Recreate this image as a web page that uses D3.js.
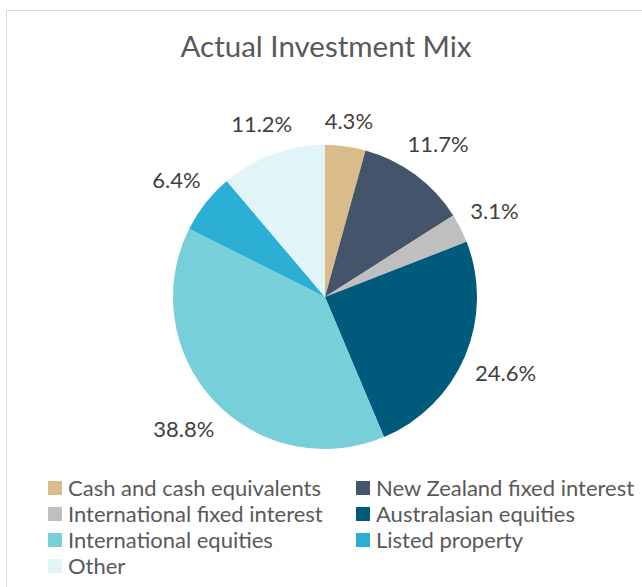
<!DOCTYPE html>
<html>
<head>
<meta charset="utf-8">
<script src="https://cdn.jsdelivr.net/npm/d3@7"></script>
<style>
    body { margin: 0; background: #fff; }
    text { font-family: Lato, "Open Sans", sans-serif; }
</style>
</head>
<body>
<div id="chart"></div>
<script>
// values
const categories = [
    "Cash and cash equivalents",
    "New Zealand fixed interest",
    "International fixed interest",
    "Australasian equities",
    "International equities",
    "Listed property",
    "Other"
];
const shares = [4.3, 11.7, 3.1, 24.6, 38.8, 6.4, 11.2];
const colours = ["#D9BC8A", "#44546A", "#BFBFBF", "#005A7B", "#77CFD9", "#2BAFD5", "#E1F4F7"];
const title = "Actual Investment Mix";

const width = 642, height = 587;
const cx = 325, cy = 297, radius = 152;

let svg = d3.select("#chart")
    .append("svg")
    .attr("width", width)
    .attr("height", height);

// chart frame (right and bottom edges run off the picture)
svg.append("rect")
    .attr("x", 6.5)
    .attr("y", 10.5)
    .attr("width", 700)
    .attr("height", 700)
    .attr("fill", "#fff")
    .attr("stroke", "#D9D9D9");

svg.append("text")
    .attr("x", 326)
    .attr("y", 57)
    .attr("text-anchor", "middle")
    .attr("font-size", 29.5)
    .attr("fill", "#595959")
    .text(title);

let data = categories.map((c, i) => ({ name: c, value: shares[i], color: colours[i] }));

let pie = d3.pie().sort(null).value(d => d.value);
let arc = d3.arc().innerRadius(0).outerRadius(radius);

let g = svg.append("g").attr("transform", "translate(" + cx + "," + cy + ")");

let slices = pie(data);

g.selectAll("path")
    .data(slices)
    .enter()
    .append("path")
    .attr("d", arc)
    .attr("fill", d => d.data.color);

// data labels sit just outside the rim, pushed out by half their box
let labels = g.selectAll("text.label")
    .data(slices)
    .enter()
    .append("text")
    .attr("class", "label")
    .attr("text-anchor", "middle")
    .attr("dy", "0.35em")
    .attr("font-size", 22)
    .attr("fill", "#404040")
    .text(d => d.data.value.toFixed(1) + "%");

labels.each(function(d) {
    let w = this.getComputedTextLength();
    let mid = (d.startAngle + d.endAngle) / 2;
    let s = Math.sin(mid), c = Math.cos(mid);
    let dist = radius + 12 + (w / 2) * Math.abs(s) + 10 * Math.abs(c);
    d3.select(this)
        .attr("x", dist * s)
        .attr("y", -dist * c);
});

// legend, two columns
let col = d3.scaleOrdinal().domain([0, 1]).range([48, 356]);
let row = d3.scaleLinear().domain([0, 3]).range([488, 566]);

let legend = svg.selectAll("g.legend")
    .data(data)
    .enter()
    .append("g")
    .attr("class", "legend")
    .attr("transform", (d, i) => "translate(" + col(i % 2) + "," + row(Math.floor(i / 2)) + ")");

legend.append("rect")
    .attr("x", 0)
    .attr("y", -7)
    .attr("width", 14)
    .attr("height", 14)
    .attr("fill", d => d.color);

legend.append("text")
    .attr("x", 20)
    .attr("dy", "0.35em")
    .attr("font-size", 22)
    .attr("fill", "#595959")
    .text(d => d.name);
</script>
</body>
</html>
